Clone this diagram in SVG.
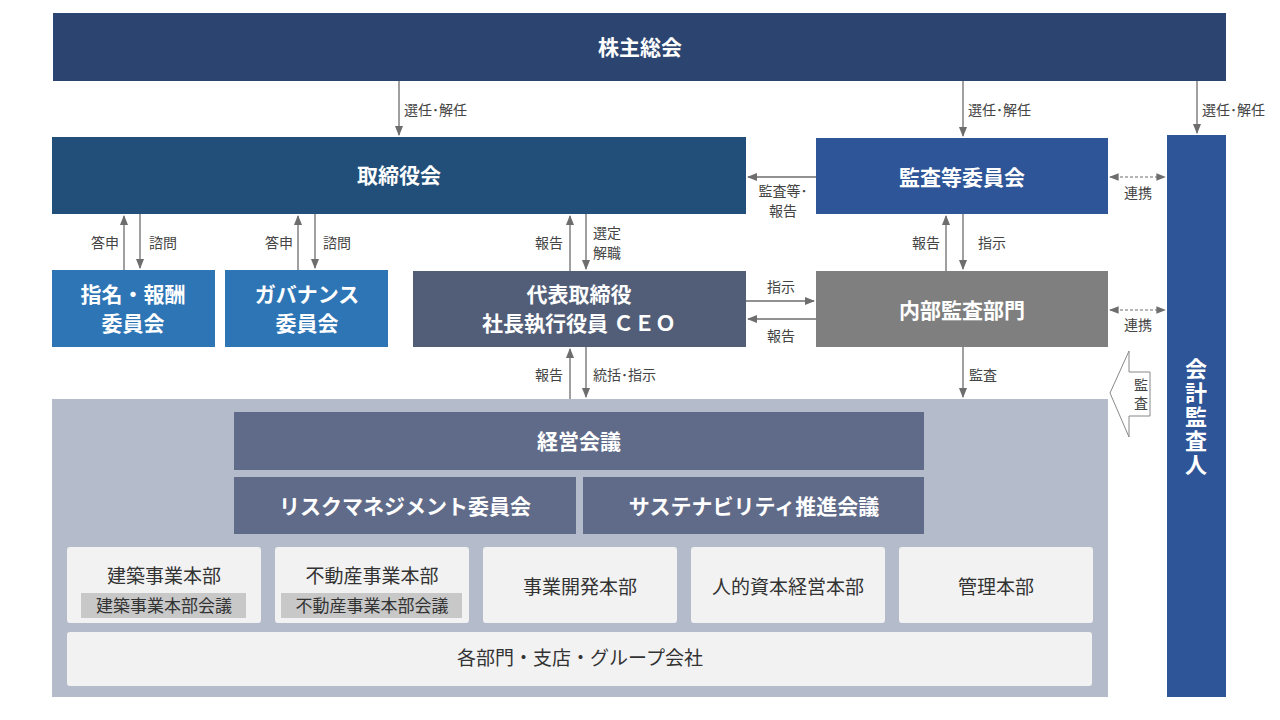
<svg xmlns="http://www.w3.org/2000/svg" width="1280" height="720" viewBox="0 0 1280 720">
<style>
text{font-family:"Noto Sans CJK JP","Noto Sans",sans-serif}
.w{fill:#fff;font-weight:bold;font-size:21px;text-anchor:middle}
.l{fill:#444;font-size:14px}
.d{fill:#333;font-size:19px;text-anchor:middle}
.s{fill:#333;font-size:17px;text-anchor:middle}
.ln{stroke:#6d6d6d;stroke-width:1.3;fill:none}
.ds{stroke:#6d6d6d;stroke-width:1.2;fill:none;stroke-dasharray:3 2}
</style>
<defs>
<marker id="a" viewBox="0 0 10 10" refX="9" refY="5" markerWidth="8" markerHeight="8" orient="auto-start-reverse"><path d="M0,1 L10,5 L0,9 z" fill="#6d6d6d"/></marker>
</defs>
<rect width="1280" height="720" fill="#fff"/>
<g id="shareholders"><rect x="53" y="13" width="1173" height="68" fill="#2b4470"/><text class="w" x="640" y="55">株主総会</text></g>
<g id="board"><rect x="52" y="137" width="694" height="77" fill="#214f7a"/><text class="w" x="399" y="183">取締役会</text></g>
<g id="auditcomm"><rect x="816" y="138" width="292" height="76" fill="#2e5597"/><text class="w" x="962" y="185">監査等委員会</text></g>
<g id="auditor"><rect x="1167" y="135" width="59" height="562" fill="#2e5597"/><text class="w" style="font-size:22px"><tspan x="1196" y="377">会</tspan><tspan x="1196" y="401">計</tspan><tspan x="1196" y="425">監</tspan><tspan x="1196" y="449">査</tspan><tspan x="1196" y="473">人</tspan></text></g>
<g id="nomination"><rect x="52" y="270" width="163" height="77" fill="#2e75b6"/><text class="w" x="133" y="302">指名・報酬</text><text class="w" x="133" y="331">委員会</text></g>
<g id="governance"><rect x="225" y="270" width="163" height="77" fill="#2e75b6"/><text class="w" x="307" y="302">ガバナンス</text><text class="w" x="307" y="331">委員会</text></g>
<g id="ceo"><rect x="413" y="271" width="333" height="76" fill="#525e78"/><text class="w" x="579" y="302">代表取締役</text><text class="w" x="579" y="331">社長執行役員 ＣＥＯ</text></g>
<g id="internal"><rect x="816" y="271" width="292" height="76" fill="#7f7f7f"/><text class="w" x="962" y="318">内部監査部門</text></g>
<g id="execarea"><rect x="52" y="399" width="1056" height="298" fill="#b4bbca"/></g>
<g id="mgmt"><rect x="234" y="412" width="690" height="58" fill="#5f6b89"/><text class="w" x="579" y="449">経営会議</text></g>
<g id="risk"><rect x="234" y="477" width="342" height="57" fill="#5f6b89"/><text class="w" x="405" y="514">リスクマネジメント委員会</text></g>
<g id="sustain"><rect x="583" y="477" width="341" height="57" fill="#5f6b89"/><text class="w" x="754" y="514">サステナビリティ推進会議</text></g>
<g id="dept1"><rect x="67" y="547" width="194" height="76" rx="3" fill="#f2f2f2"/><text class="d" x="164" y="583">建築事業本部</text><rect x="81" y="593" width="165" height="25" fill="#c8c8c8"/><text class="s" x="164" y="612">建築事業本部会議</text></g>
<g id="dept2"><rect x="275" y="547" width="194" height="76" rx="3" fill="#f2f2f2"/><text class="d" x="372" y="583">不動産事業本部</text><rect x="281" y="593" width="181" height="25" fill="#c8c8c8"/><text class="s" x="372" y="612">不動産事業本部会議</text></g>
<g id="dept3"><rect x="483" y="547" width="194" height="76" rx="3" fill="#f2f2f2"/><text class="d" x="580" y="594">事業開発本部</text></g>
<g id="dept4"><rect x="691" y="547" width="194" height="76" rx="3" fill="#f2f2f2"/><text class="d" x="788" y="594">人的資本経営本部</text></g>
<g id="dept5"><rect x="899" y="547" width="194" height="76" rx="3" fill="#f2f2f2"/><text class="d" x="996" y="594">管理本部</text></g>
<g id="group"><rect x="67" y="632" width="1025" height="54" rx="3" fill="#f2f2f2"/><text class="d" x="580" y="665">各部門・支店・グループ会社</text></g>
<g id="connectors">
<line class="ln" x1="399" y1="81" x2="399" y2="135" marker-end="url(#a)"/>
<line class="ln" x1="963" y1="81" x2="963" y2="136" marker-end="url(#a)"/>
<line class="ln" x1="1197" y1="81" x2="1197" y2="133" marker-end="url(#a)"/>
<text class="l" x="404" y="115">選任･解任</text>
<text class="l" x="968" y="115">選任･解任</text>
<text class="l" x="1202" y="115">選任･解任</text>
<line class="ln" x1="816" y1="177" x2="748" y2="177" marker-end="url(#a)"/>
<text class="l" x="783" y="196" text-anchor="middle">監査等･</text><text class="l" x="783" y="216" text-anchor="middle">報告</text>
<line class="ds" x1="1110" y1="177" x2="1165" y2="177" marker-start="url(#a)" marker-end="url(#a)"/>
<text class="l" x="1138" y="198" text-anchor="middle">連携</text>
<line class="ds" x1="1110" y1="310" x2="1165" y2="310" marker-start="url(#a)" marker-end="url(#a)"/>
<text class="l" x="1138" y="330" text-anchor="middle">連携</text>
<polygon points="1110,393 1129,351 1129,372 1150,372 1150,416 1129,416 1129,437" fill="#fff" stroke="#888" stroke-width="1"/>
<text class="l" x="1141" y="390" text-anchor="middle">監</text><text class="l" x="1141" y="408" text-anchor="middle">査</text>
<line class="ln" x1="124" y1="270" x2="124" y2="216" marker-end="url(#a)"/>
<line class="ln" x1="140" y1="214" x2="140" y2="268" marker-end="url(#a)"/>
<text class="l" x="119" y="248" text-anchor="end">答申</text><text class="l" x="149" y="248">諮問</text>
<line class="ln" x1="298" y1="270" x2="298" y2="216" marker-end="url(#a)"/>
<line class="ln" x1="315" y1="214" x2="315" y2="268" marker-end="url(#a)"/>
<text class="l" x="293" y="248" text-anchor="end">答申</text><text class="l" x="323" y="248">諮問</text>
<line class="ln" x1="570" y1="271" x2="570" y2="216" marker-end="url(#a)"/>
<line class="ln" x1="586" y1="214" x2="586" y2="269" marker-end="url(#a)"/>
<text class="l" x="563" y="248" text-anchor="end">報告</text><text class="l" x="593" y="238">選定</text><text class="l" x="593" y="258">解職</text>
<line class="ln" x1="746" y1="301" x2="814" y2="301" marker-end="url(#a)"/>
<text class="l" x="781" y="292" text-anchor="middle">指示</text>
<line class="ln" x1="816" y1="319" x2="748" y2="319" marker-end="url(#a)"/>
<text class="l" x="781" y="341" text-anchor="middle">報告</text>
<line class="ln" x1="946" y1="271" x2="946" y2="216" marker-end="url(#a)"/>
<line class="ln" x1="963" y1="214" x2="963" y2="269" marker-end="url(#a)"/>
<text class="l" x="940" y="248" text-anchor="end">報告</text><text class="l" x="978" y="248">指示</text>
<line class="ln" x1="570" y1="399" x2="570" y2="349" marker-end="url(#a)"/>
<line class="ln" x1="586" y1="347" x2="586" y2="397" marker-end="url(#a)"/>
<text class="l" x="563" y="380" text-anchor="end">報告</text><text class="l" x="593" y="380">統括･指示</text>
<line class="ln" x1="963" y1="347" x2="963" y2="397" marker-end="url(#a)"/>
<text class="l" x="969" y="380">監査</text>
</g>
</svg>
